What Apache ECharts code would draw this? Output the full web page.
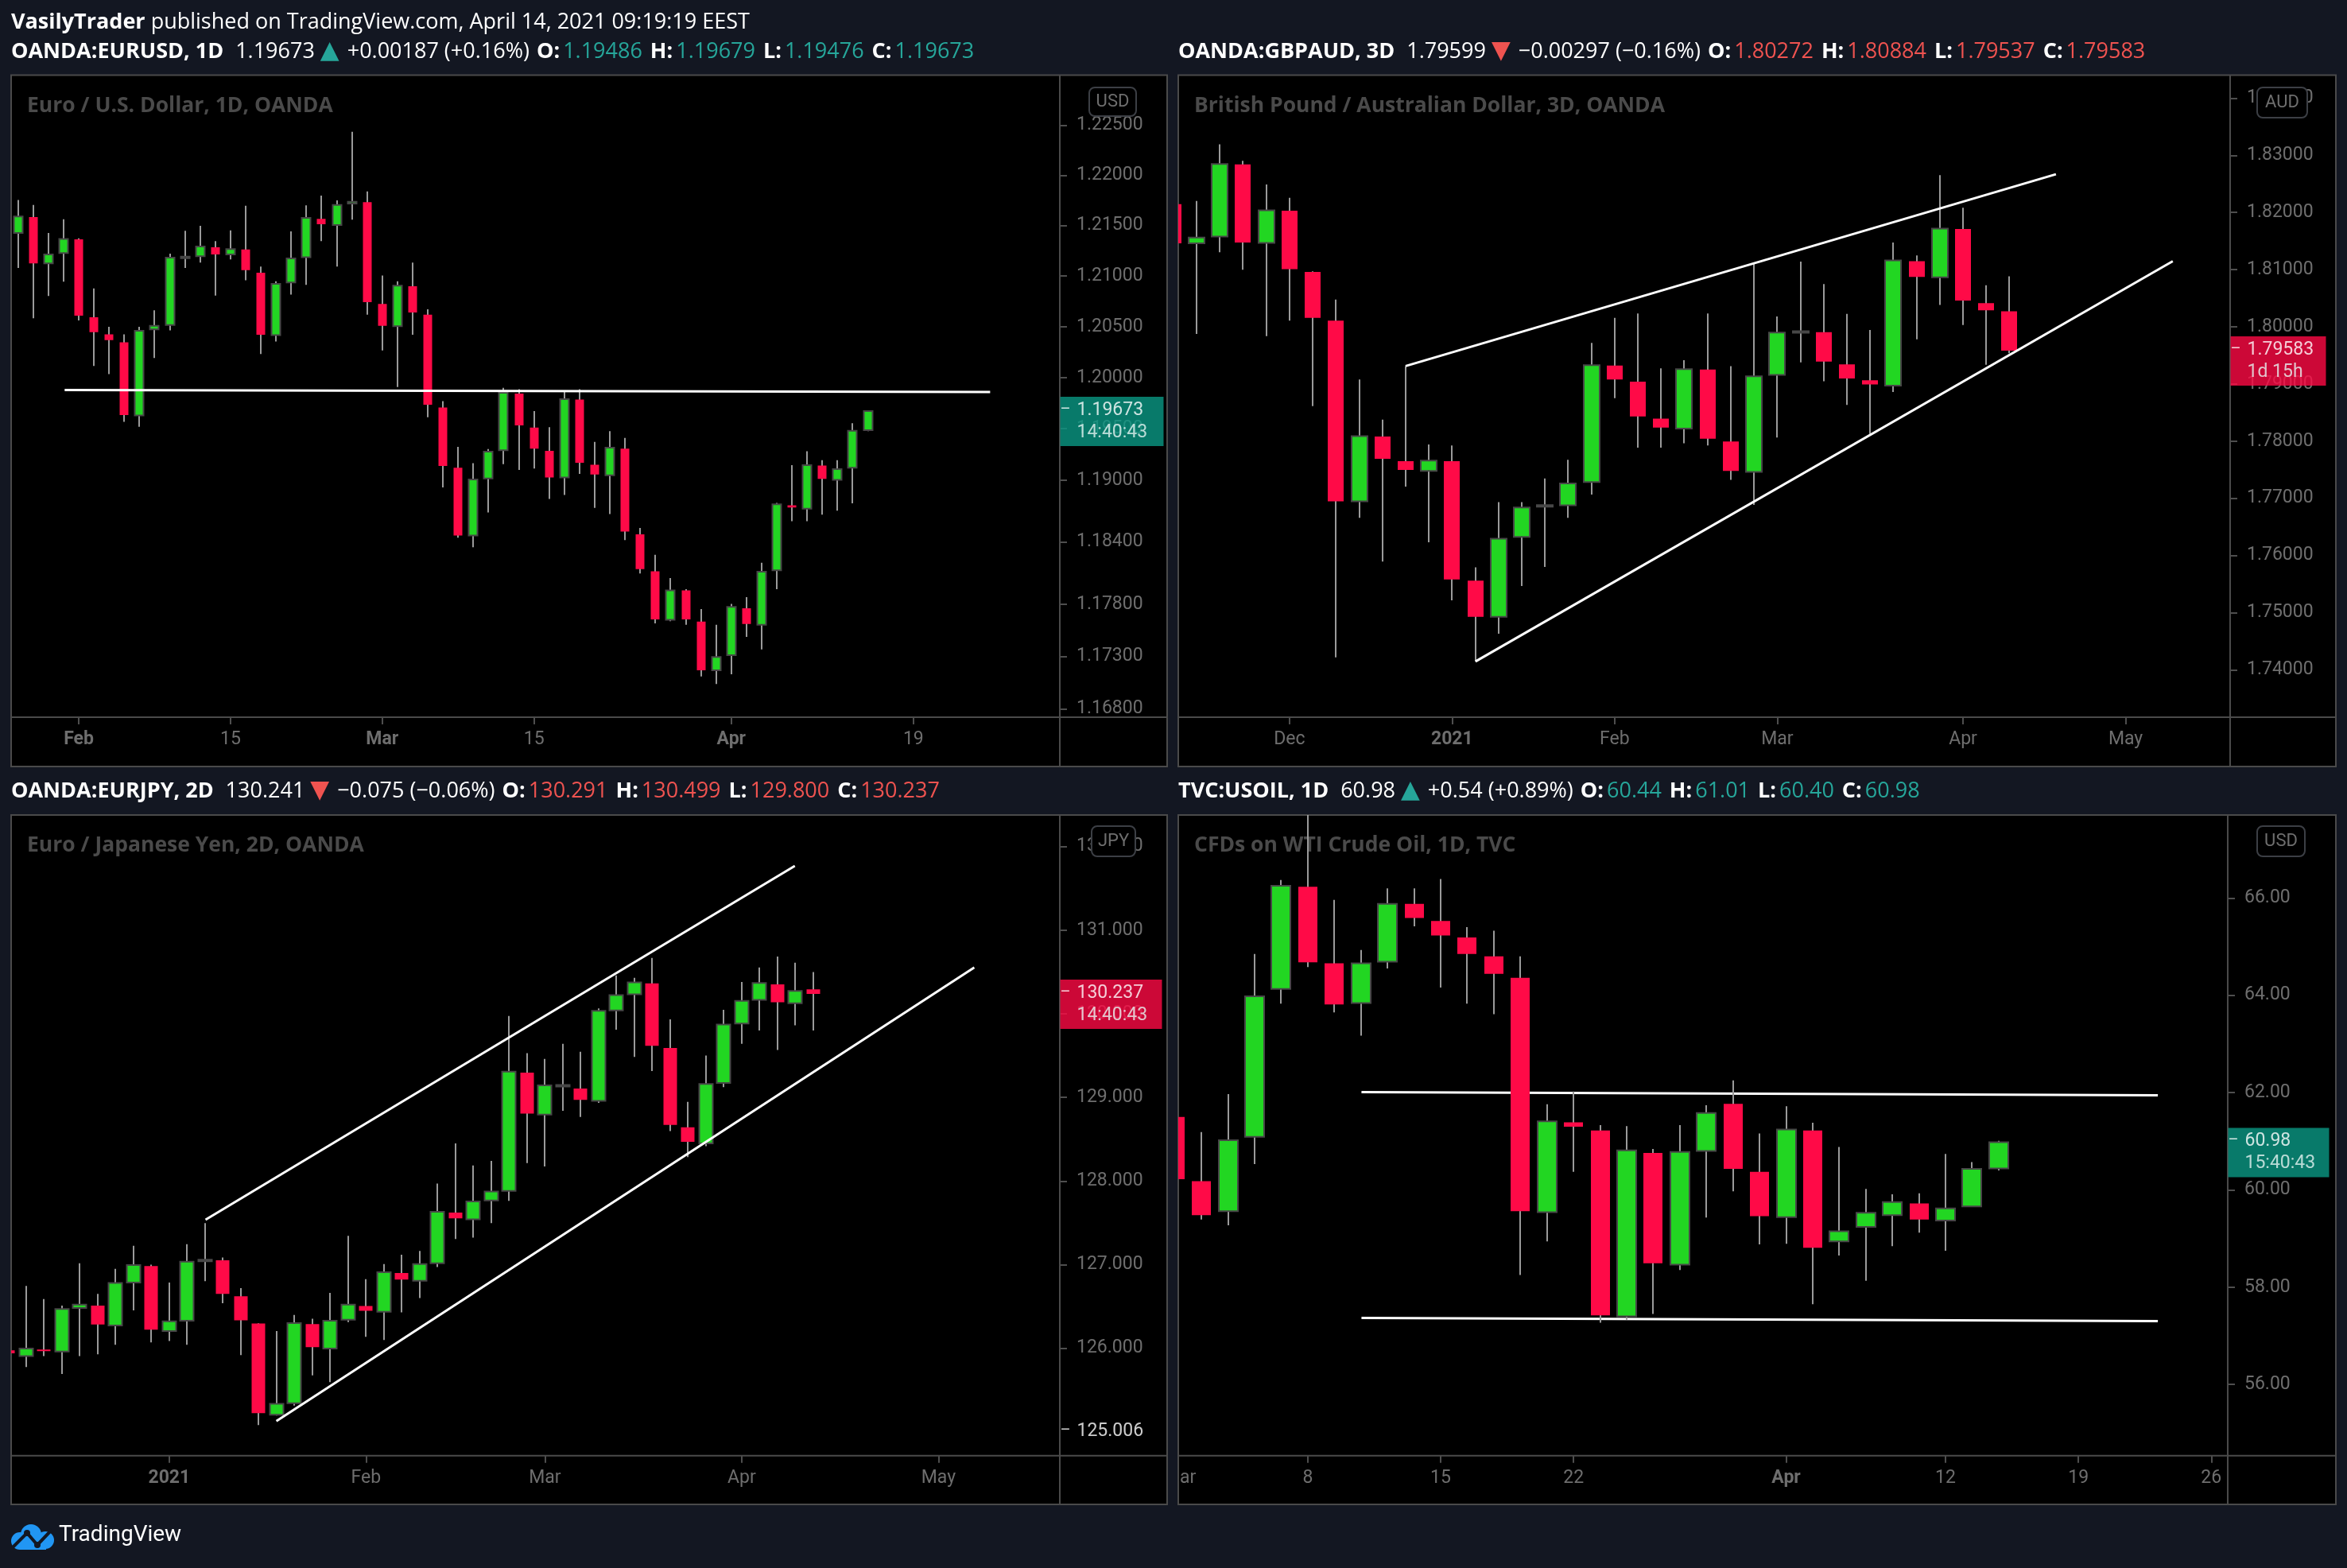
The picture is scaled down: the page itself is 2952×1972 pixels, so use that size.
<!DOCTYPE html>
<html><head><meta charset="utf-8">
<script src="https://cdn.jsdelivr.net/npm/echarts@6.0.0/dist/echarts.min.js"></script>
<style>html,body{margin:0;padding:0;background:#131722;}#c{width:2952px;height:1972px;}</style>
</head><body><div id="c"></div>
<script>
// ================= DATA =================
// ---- OANDA:EURUSD, 1D ----
const eurusdDates = ['2021-01-26','2021-01-27','2021-01-28','2021-01-29','2021-02-01','2021-02-02','2021-02-03','2021-02-04','2021-02-05','2021-02-08','2021-02-09','2021-02-10','2021-02-11','2021-02-12','2021-02-15','2021-02-16','2021-02-17','2021-02-18','2021-02-19','2021-02-22','2021-02-23','2021-02-24','2021-02-25','2021-02-26','2021-03-01','2021-03-02','2021-03-03','2021-03-04','2021-03-05','2021-03-08','2021-03-09','2021-03-10','2021-03-11','2021-03-12','2021-03-15','2021-03-16','2021-03-17','2021-03-18','2021-03-19','2021-03-22','2021-03-23','2021-03-24','2021-03-25','2021-03-26','2021-03-29','2021-03-30','2021-03-31','2021-04-01','2021-04-02','2021-04-05','2021-04-06','2021-04-07','2021-04-08','2021-04-09','2021-04-12','2021-04-13','2021-04-14','2021-04-15','2021-04-16','2021-04-19','2021-04-20','2021-04-21','2021-04-22','2021-04-23','2021-04-26','2021-04-27','2021-04-28','2021-04-29','2021-04-30'];
const eurusdOpen  = [1.21425,1.21584,1.21124,1.21226,1.21363,1.20592,1.20425,1.20346,1.19629,1.20473,1.20517,1.21188,1.21195,1.21283,1.21213,1.21261,1.21032,1.20416,1.20935,1.21186,1.21566,1.21504,1.21717,1.21731,1.20723,1.20504,1.20899,1.20618,1.19707,1.19120,1.18463,1.19016,1.19290,1.19843,1.19511,1.19285,1.19025,1.19786,1.19150,1.19047,1.19307,1.18475,1.18118,1.17650,1.17933,1.17633,1.17167,1.17312,1.17761,1.17603,1.18127,1.18756,1.18722,1.19142,1.19003,1.19120,1.19486];
const eurusdHigh  = [1.21752,1.21704,1.21425,1.21562,1.21372,1.20877,1.20499,1.20425,1.20499,1.20662,1.21221,1.21447,1.21496,1.21345,1.21451,1.21695,1.21093,1.20948,1.21442,1.21699,1.21797,1.21748,1.22433,1.21837,1.21005,1.20948,1.21133,1.20671,1.19769,1.19324,1.19164,1.19303,1.19900,1.19887,1.19673,1.19516,1.19860,1.19887,1.19372,1.19477,1.19411,1.18536,1.18277,1.18053,1.17946,1.17753,1.17603,1.17804,1.17869,1.18200,1.18778,1.19146,1.19281,1.19194,1.19194,1.19555,1.19679];
const eurusdLow   = [1.21080,1.20583,1.20803,1.20944,1.20561,1.20114,1.20035,1.19568,1.19520,1.20192,1.20464,1.21080,1.21133,1.20807,1.21164,1.20957,1.20232,1.20355,1.20816,1.20913,1.21345,1.21093,1.21557,1.20618,1.20267,1.19908,1.20420,1.19612,1.18929,1.18441,1.18350,1.18687,1.19155,1.19099,1.19112,1.18817,1.18856,1.19060,1.18730,1.18670,1.18419,1.18096,1.17616,1.17637,1.17603,1.17107,1.17035,1.17128,1.17487,1.17367,1.17946,1.18601,1.18601,1.18665,1.18704,1.18774,1.19476];
const eurusdClose = [1.21589,1.21124,1.21213,1.21367,1.20609,1.20447,1.20368,1.19633,1.20460,1.20508,1.21182,1.21192,1.21292,1.21213,1.21266,1.21058,1.20420,1.20922,1.21173,1.21575,1.21513,1.21704,1.21735,1.20741,1.20508,1.20904,1.20640,1.19734,1.19138,1.18463,1.19007,1.19277,1.19852,1.19533,1.19307,1.19025,1.19790,1.19168,1.19055,1.19316,1.18501,1.18139,1.17654,1.17933,1.17654,1.17167,1.17295,1.17774,1.17611,1.18114,1.18765,1.18735,1.19146,1.19012,1.19107,1.19481,1.19673];
const eurusdTimeTicks = [['2021-02-01','Feb',true],['2021-02-15','15',false],['2021-03-01','Mar',true],['2021-03-15','15',false],['2021-04-01','Apr',true],['2021-04-19','19',false]];
const eurusdPriceTicks = [1.225,1.22,1.215,1.21,1.205,1.2,1.195,1.19,1.184,1.178,1.173,1.168];
const eurusdTrendLines = [[[3.07,1.19878],[64.06,1.19860]]];
const eurusdLast = {price:1.19673, text:'1.19673', sub:'14:40:43', up:true};
const eurusdLegend = ['OANDA:EURUSD, 1D','1.19673','+0.00187 (+0.16%)','1.19486','1.19679','1.19476','1.19673'];
const eurusdTitle = 'Euro / U.S. Dollar, 1D, OANDA';

// ---- OANDA:GBPAUD, 3D ----
const gbpaudDates = ['2020-11-10','2020-11-13','2020-11-18','2020-11-23','2020-11-26','2020-12-01','2020-12-04','2020-12-09','2020-12-14','2020-12-17','2020-12-22','2020-12-28','2021-01-04','2021-01-07','2021-01-12','2021-01-15','2021-01-20','2021-01-25','2021-01-28','2021-02-02','2021-02-05','2021-02-10','2021-02-15','2021-02-18','2021-02-23','2021-02-26','2021-03-02','2021-03-05','2021-03-10','2021-03-15','2021-03-18','2021-03-23','2021-03-26','2021-03-31','2021-04-05','2021-04-08','2021-04-13','2021-04-16','2021-04-21','2021-04-26','2021-04-29','2021-05-04','2021-05-07','2021-05-12','2021-05-17','2021-05-20'];
const gbpaudOpen  = [1.82146,1.81460,1.81577,1.82841,1.81467,1.82029,1.80960,1.80109,1.76948,1.78080,1.77651,1.77479,1.77651,1.75559,1.74927,1.76324,1.76870,1.76878,1.77284,1.79321,1.79040,1.78392,1.78220,1.79251,1.77994,1.77463,1.79157,1.79915,1.79906,1.79344,1.79063,1.78970,1.81147,1.80866,1.81709,1.80414,1.80272];
const gbpaudHigh  = [1.82300,1.82201,1.83192,1.82903,1.82490,1.82256,1.80970,1.80476,1.79079,1.78377,1.79313,1.77940,1.77924,1.75793,1.76933,1.76933,1.77346,1.77674,1.79719,1.80156,1.80234,1.79274,1.79415,1.80234,1.79313,1.81124,1.80180,1.81140,1.80749,1.80226,1.79945,1.81475,1.81249,1.82654,1.82084,1.80726,1.80884];
const gbpaudLow   = [1.81250,1.79875,1.81303,1.80999,1.79836,1.80109,1.78611,1.74216,1.76659,1.75895,1.77206,1.76230,1.75216,1.74146,1.74630,1.75465,1.75801,1.76659,1.77065,1.78751,1.77885,1.77885,1.77963,1.77924,1.77323,1.76886,1.78064,1.79376,1.79048,1.78634,1.78127,1.78860,1.79781,1.80382,1.80031,1.79337,1.79537];
const gbpaudClose = [1.81460,1.81561,1.82849,1.81475,1.82037,1.81007,1.80156,1.76948,1.78088,1.77690,1.77495,1.77659,1.75582,1.74927,1.76293,1.76839,1.76880,1.77260,1.79329,1.79079,1.78431,1.78236,1.79259,1.78041,1.77479,1.79134,1.79899,1.79925,1.79391,1.79095,1.78993,1.81163,1.80874,1.81717,1.80460,1.80289,1.79583];
const gbpaudTimeTicks = [['2020-12-01','Dec',false],['2021-01-04','2021',true],['2021-02-02','Feb',false],['2021-03-02','Mar',false],['2021-04-05','Apr',false],['2021-05-04','May',false]];
const gbpaudPriceTicks = [1.84,1.83,1.82,1.81,1.80,1.79,1.78,1.77,1.76,1.75,1.74];
const gbpaudTrendLines = [[[10.0,1.79313],[38.0,1.82669]],[[13.01,1.74146],[43.03,1.81147]]];
const gbpaudLast = {price:1.79583, text:'1.79583', sub:'1d 15h', up:false};
const gbpaudLegend = ['OANDA:GBPAUD, 3D','1.79599','\u22120.00297 (\u22120.16%)','1.80272','1.80884','1.79537','1.79583'];
const gbpaudTitle = 'British Pound / Australian Dollar, 3D, OANDA';

// ---- OANDA:EURJPY, 2D ----
const eurjpyDates = ['2020-12-08','2020-12-10','2020-12-14','2020-12-16','2020-12-18','2020-12-22','2020-12-24','2020-12-28','2020-12-30','2021-01-01','2021-01-05','2021-01-07','2021-01-11','2021-01-13','2021-01-15','2021-01-19','2021-01-21','2021-01-25','2021-01-27','2021-01-29','2021-02-01','2021-02-03','2021-02-05','2021-02-09','2021-02-11','2021-02-15','2021-02-17','2021-02-19','2021-02-23','2021-02-25','2021-03-01','2021-03-03','2021-03-05','2021-03-09','2021-03-11','2021-03-15','2021-03-17','2021-03-19','2021-03-23','2021-03-25','2021-03-29','2021-04-01','2021-04-05','2021-04-07','2021-04-09','2021-04-13','2021-04-15','2021-04-19','2021-04-21','2021-04-23','2021-04-27','2021-04-29','2021-05-03','2021-05-05','2021-05-07','2021-05-11','2021-05-13','2021-05-17','2021-05-19'];
const eurjpyOpen  = [125.975,125.907,125.986,125.963,126.482,126.510,126.274,126.787,126.984,126.206,126.330,127.055,127.052,126.623,126.296,125.207,125.343,126.290,125.997,126.341,126.505,126.437,126.900,126.809,127.018,127.622,127.543,127.768,127.881,129.297,128.795,129.140,129.105,128.958,130.041,130.233,130.363,129.590,128.642,128.451,129.173,129.883,130.165,130.351,130.126,130.291];
const eurjpyHigh  = [126.003,126.747,126.589,126.510,127.018,126.651,126.950,127.227,127.000,126.787,127.244,127.497,127.086,126.719,126.300,126.206,126.398,126.353,126.663,127.345,126.826,127.007,127.120,127.165,127.971,128.451,128.186,128.242,129.973,129.528,129.460,129.641,129.545,130.064,130.459,130.430,130.667,129.934,128.947,129.500,130.047,130.380,130.554,130.684,130.611,130.499];
const eurjpyLow   = [125.879,125.777,125.907,125.693,125.907,125.929,126.042,126.454,126.070,126.087,126.042,126.804,126.539,125.918,125.083,125.196,125.315,125.676,125.597,126.313,126.138,126.099,126.431,126.601,126.973,127.306,127.323,127.497,127.763,128.214,128.174,128.840,128.767,128.936,129.810,129.483,129.314,128.597,128.287,128.417,129.122,129.641,129.799,129.567,129.861,129.800];
const eurjpyClose = [125.941,125.997,125.969,126.471,126.522,126.285,126.781,126.995,126.223,126.324,127.035,127.060,126.651,126.336,125.224,125.337,126.302,126.014,126.330,126.522,126.448,126.911,126.821,127.007,127.633,127.554,127.757,127.875,129.308,128.806,129.144,129.148,128.970,130.036,130.222,130.374,129.618,128.671,128.468,129.161,129.872,130.154,130.368,130.137,130.272,130.237];
const eurjpyTimeTicks = [['2021-01-01','2021',true],['2021-02-01','Feb',false],['2021-03-01','Mar',false],['2021-04-01','Apr',false],['2021-05-03','May',false]];
const eurjpyPriceTicks = [132,131,130,129,128,127,126];
const eurjpyTrendLines = [[[11.03,127.537],[43.97,131.767]],[[14.99,125.129],[54.0,130.554]]];
const eurjpyLast = {price:130.237, text:'130.237', sub:'14:40:43', up:false};
const eurjpyLowMark = {price:125.006, text:'125.006'};
const eurjpyLegend = ['OANDA:EURJPY, 2D','130.241','\u22120.075 (\u22120.06%)','130.291','130.499','129.800','130.237'];
const eurjpyTitle = 'Euro / Japanese Yen, 2D, OANDA';

// ---- TVC:USOIL, 1D ----
const usoilDates = ['2021-03-01','2021-03-02','2021-03-03','2021-03-04','2021-03-05','2021-03-08','2021-03-09','2021-03-10','2021-03-11','2021-03-12','2021-03-15','2021-03-16','2021-03-17','2021-03-18','2021-03-19','2021-03-22','2021-03-23','2021-03-24','2021-03-25','2021-03-26','2021-03-29','2021-03-30','2021-03-31','2021-04-01','2021-04-05','2021-04-06','2021-04-07','2021-04-08','2021-04-09','2021-04-12','2021-04-13','2021-04-14','2021-04-15','2021-04-16','2021-04-19','2021-04-20','2021-04-21','2021-04-22','2021-04-23','2021-04-26','2021-04-27'];
const usoilOpen  = [61.50,60.18,59.56,61.09,64.13,66.23,64.66,63.84,64.69,65.88,65.53,65.19,64.80,64.36,59.54,61.39,61.22,57.40,60.76,58.46,60.80,61.77,60.37,59.44,61.22,58.94,59.24,59.48,59.72,59.37,59.66,60.44];
const usoilHigh  = [61.75,61.19,61.97,64.85,66.37,67.98,65.96,64.93,66.20,66.20,66.39,65.40,65.33,64.80,61.76,62.02,61.33,61.31,60.84,61.33,61.74,62.25,61.16,61.72,61.38,60.88,60.02,59.91,59.93,60.74,60.57,61.01];
const usoilLow   = [60.00,59.39,59.27,60.53,63.83,64.58,63.65,63.17,64.55,65.42,64.16,63.83,63.61,58.25,58.94,60.37,57.27,57.33,57.45,58.35,59.43,59.97,58.88,58.89,57.65,58.65,58.13,58.84,59.12,58.75,59.66,60.40];
const usoilClose = [60.22,59.48,61.02,63.98,66.25,64.68,63.81,64.66,65.88,65.59,65.23,64.85,64.44,59.56,61.41,61.30,57.42,60.81,58.49,60.78,61.58,60.43,59.46,61.24,58.81,59.15,59.53,59.75,59.39,59.62,60.43,60.98];
const usoilTimeTicks = [['2021-03-08','8',false],['2021-03-15','15',false],['2021-03-22','22',false],['2021-04-01','Apr',true],['2021-04-12','12',false],['2021-04-19','19',false],['2021-04-26','26',false]];
const usoilClippedTick = 'ar';
const usoilPriceTicks = [66,64,62,60,58,56];
const usoilTrendLines = [[[7.02,62.01],[36.99,61.946]],[[7.02,57.368],[36.99,57.30]]];
const usoilLast = {price:60.98, text:'60.98', sub:'15:40:43', up:true};
const usoilLegend = ['TVC:USOIL, 1D','60.98','+0.54 (+0.89%)','60.44','61.01','60.40','60.98'];
const usoilTitle = 'CFDs on WTI Crude Oil, 1D, TVC';

const publishLine = ['VasilyTrader',' published on TradingView.com, April 14, 2021 09:19:19 EEST'];

// ================= STYLE / LAYOUT =================
const FONT = 'Roboto, "Noto Sans", "DejaVu Sans", sans-serif';
const HFONT = '"Open Sans", "Noto Sans", Roboto, sans-serif';
const HSIZE = 27;
const GREEN = '#22d622', RED = '#ff0a47', WICK = '#9a9a9a', GBORDER = '#474747';
const AXC = '#4e4e4e', LBC = '#6e6e6e', TITLEC = '#4a4a4a', FRAME = '#4a4a4a';
const TEAL = '#26a69a', LRED = '#ef5350', BOX_TEAL = '#0a9884', BOX_RED = '#ff0a45';

const panels = [
  {dates:eurusdDates,O:eurusdOpen,H:eurusdHigh,L:eurusdLow,C:eurusdClose,tt:eurusdTimeTicks,pt:eurusdPriceTicks,tr:eurusdTrendLines,last:eurusdLast,legend:eurusdLegend,title:eurusdTitle,unit:'USD',
   g:{left:14,top:94.5,right:1468,bottom:964,pr:1333,pb:902,xMin:-0.456,xMax:68.65,yMin:1.16719,yMax:1.2300,log:true,digits:5,body:0.6,lineZ:5,legendY:65,titleY:133,badge:[1370,110,59,36],labW:130}},
  {dates:gbpaudDates,O:gbpaudOpen,H:gbpaudHigh,L:gbpaudLow,C:gbpaudClose,tt:gbpaudTimeTicks,pt:gbpaudPriceTicks,tr:gbpaudTrendLines,last:gbpaudLast,legend:gbpaudLegend,title:gbpaudTitle,unit:'AUD',
   g:{left:1482,top:94.5,right:2938,bottom:964,pr:2805,pb:902,xMin:0.212,xMax:45.5,yMin:1.73171,yMax:1.84402,log:false,digits:5,body:0.68,lineZ:5,legendY:65,titleY:133,badge:[2839,110,63,38],labW:120}},
  {dates:eurjpyDates,O:eurjpyOpen,H:eurjpyHigh,L:eurjpyLow,C:eurjpyClose,tt:eurjpyTimeTicks,pt:eurjpyPriceTicks,tr:eurjpyTrendLines,last:eurjpyLast,legend:eurjpyLegend,title:eurjpyTitle,unit:'JPY',
   g:{left:14,top:1025,right:1468,bottom:1892,pr:1333,pb:1830.7,xMin:0.164,xMax:58.78,yMin:124.717,yMax:132.376,log:false,digits:3,body:0.75,lineZ:5,legendY:995,titleY:1063,badge:[1373,1039,55,38],labW:128}},
  {dates:usoilDates,O:usoilOpen,H:usoilHigh,L:usoilLow,C:usoilClose,tt:usoilTimeTicks,pt:usoilPriceTicks,tr:usoilTrendLines,last:usoilLast,legend:usoilLegend,title:usoilTitle,unit:'USD',
   g:{left:1482,top:1025,right:2938,bottom:1892,pr:2802,pb:1830.7,xMin:0.126,xMax:39.62,yMin:54.535,yMax:67.707,log:false,digits:2,body:0.72,lineZ:2,legendY:995,titleY:1063,badge:[2839,1039,60,38],labW:127}}
];

const grids = [], xAxes = [], yAxes = [], series = [], graphics = [];

panels.forEach((p, k) => {
  const g = p.g;
  grids.push({left:g.left, top:g.top, width:g.pr - g.left, height:g.pb - g.top, containLabel:false, outerBoundsMode:'none', show:false});
  const tickMap = {}; const tickIdx = [];
  p.tt.forEach(t => { const i = p.dates.indexOf(t[0]); tickMap[i] = t; tickIdx.push(i); });
  xAxes.push({type:'value', gridIndex:k, min:g.xMin, max:g.xMax, axisLine:{show:false, onZero:false}, splitLine:{show:false},
    axisTick:{show:true, customValues:tickIdx, length:9, lineStyle:{color:AXC, width:2}},
    axisLabel:{show:true, customValues:tickIdx, hideOverlap:false, margin:17, fontSize:23, color:LBC, fontFamily:FONT,
      formatter: v => { const t = tickMap[Math.round(v)]; if (!t) return ''; return t[2] ? '{b|' + t[1] + '}' : t[1]; },
      rich:{b:{fontWeight:'bold', fontSize:23, color:LBC, fontFamily:FONT}}}});
  yAxes.push({type:g.log ? 'log' : 'value', logBase:10, gridIndex:k, position:'right', min:g.yMin, max:g.yMax, scale:true,
    axisLine:{show:false, onZero:false}, splitLine:{show:false},
    axisTick:{show:true, customValues:p.pt, length:9, lineStyle:{color:AXC, width:2}},
    axisLabel:{show:true, customValues:p.pt, hideOverlap:false, margin:21, fontSize:23, color:LBC, fontFamily:FONT, formatter: v => Number(v).toFixed(g.digits)}});

  // candles
  series.push({type:'custom', xAxisIndex:k, yAxisIndex:k, clip:true, z:3, silent:true,
    data: p.O.map((o, i) => [i, o, p.H[i], p.L[i], p.C[i]]),
    encode:{x:0, y:[1,2,3,4]},
    renderItem: (params, api) => {
      const i = api.value(0), o = api.value(1), h = api.value(2), l = api.value(3), c = api.value(4);
      const po = api.coord([i, o]), pc = api.coord([i, c]), ph = api.coord([i, h]), pl = api.coord([i, l]);
      const step = api.coord([i + 1, o])[0] - po[0];
      const bw = Math.round(step * g.body);
      const x = Math.round(po[0]);
      const up = c >= o;
      const top = Math.min(po[1], pc[1]);
      const hh = Math.max(Math.abs(po[1] - pc[1]), 2);
      return {type:'group', children:[
        {type:'line', shape:{x1:x, y1:ph[1], x2:x, y2:pl[1]}, style:{stroke:WICK, lineWidth:2}},
        {type:'rect', shape:{x:x - bw / 2, y:top, width:bw, height:hh},
          style: up ? {fill:GREEN, stroke:GBORDER, lineWidth:2} : {fill:RED, lineWidth:0}}
      ]};
    }});

  // trend lines
  p.tr.forEach(seg => series.push({type:'line', xAxisIndex:k, yAxisIndex:k, data:seg, symbol:'none', silent:true, z:g.lineZ,
    lineStyle:{color:'#ffffff', width:3}, clip:false}));

  // current price label on the price scale
  const boxColor = p.last.up ? BOX_TEAL : BOX_RED;
  series.push({type:'scatter', xAxisIndex:k, yAxisIndex:k, clip:false, z:20, silent:true, symbolSize:1,
    itemStyle:{color:'rgba(0,0,0,0)'}, data:[[g.xMax, p.last.price]],
    label:{show:true, position:'right', distance:0, offset:[0, 13], backgroundColor:boxColor, padding:[3, 0, 3, 0], width:g.labW, align:'left',
      formatter:'{d|\u2013}{p|' + p.last.text + '}\n{e| }{s|' + p.last.sub + '}',
      rich:{d:{color:'#ffffff', fontSize:20, width:21, fontFamily:FONT, lineHeight:28},
            p:{color:'#ffffff', fontSize:23, fontFamily:FONT, lineHeight:28},
            e:{width:21, fontSize:20, lineHeight:28},
            s:{color:'#e6f4f1', fontSize:23, fontFamily:FONT, lineHeight:28}}}});

  // frame
  graphics.push({type:'rect', z:-10, silent:true, shape:{x:g.left, y:g.top, width:g.right - g.left, height:g.bottom - g.top}, style:{fill:'#000000', stroke:FRAME, lineWidth:2}});
  graphics.push({type:'line', z:6, silent:true, shape:{x1:g.pr, y1:g.top, x2:g.pr, y2:g.bottom}, style:{stroke:FRAME, lineWidth:2}});
  graphics.push({type:'line', z:6, silent:true, shape:{x1:g.left, y1:g.pb, x2:g.right, y2:g.pb}, style:{stroke:FRAME, lineWidth:2}});
  // in-plot title
  graphics.push({type:'text', z:1, silent:true, x:g.left + 20, y:g.titleY, style:{text:p.title, fill:TITLEC, fontSize:26.5, fontWeight:'bold', fontFamily:HFONT, verticalAlign:'middle'}});
  // legend
  const cc = p.last.up ? TEAL : LRED;
  const arrow = p.last.up ? '\u25B2' : '\u25BC';
  const L = p.legend;
  graphics.push({type:'text', z:20, silent:true, x:g.left, y:g.legendY, style:{
    text:'{b|' + L[0] + '}{g15| }{w|' + L[1] + '}{g7| }{a|' + arrow + '}{g10| }{w|' + L[2] + '}{g9| }{b|O:}{g4| }{c|' + L[3] + '}{g10| }{b|H:}{g4| }{c|' + L[4] + '}{g10| }{b|L:}{g4| }{c|' + L[5] + '}{g10| }{b|C:}{g4| }{c|' + L[6] + '}',
    verticalAlign:'middle', fontSize:HSIZE, fontFamily:HFONT, fill:'#ffffff',
    rich:{b:{fill:'#ffffff', fontWeight:'bold', fontSize:HSIZE, fontFamily:HFONT},
          w:{fill:'#ffffff', fontSize:HSIZE, fontFamily:HFONT},
          c:{fill:cc, fontSize:HSIZE, fontFamily:HFONT},
          a:{fill:cc, fontSize:31, fontFamily:'"DejaVu Sans", sans-serif'},
          g15:{width:15, fontSize:HSIZE}, g12:{width:12, fontSize:HSIZE}, g10:{width:10, fontSize:HSIZE},
          g9:{width:9, fontSize:HSIZE}, g7:{width:7, fontSize:HSIZE}, g4:{width:4, fontSize:HSIZE}}}});
  // currency badge
  const b = g.badge;
  graphics.push({type:'group', z:25, silent:true, children:[
    {type:'rect', z:25, shape:{x:b[0], y:b[1], width:b[2], height:b[3], r:7}, style:{fill:'#000000', stroke:'#3c3f45', lineWidth:2}},
    {type:'text', z:26, x:b[0] + b[2] / 2, y:b[1] + b[3] / 2, style:{text:p.unit, fill:'#6e6e6e', fontSize:22, fontFamily:FONT, align:'center', verticalAlign:'middle'}}
  ]});
});

// USOIL: the "Mar" time label, clipped at the pane's left edge
graphics.push({type:'text', z:6, silent:true, x:panels[3].g.left + 2, y:panels[3].g.pb + 29, style:{text:usoilClippedTick, fill:LBC, fontSize:23, fontFamily:FONT, verticalAlign:'middle'}});

// EURJPY white low marker on the scale
series.push({type:'scatter', xAxisIndex:2, yAxisIndex:2, clip:false, z:20, silent:true, symbolSize:1, itemStyle:{color:'rgba(0,0,0,0)'},
  data:[[panels[2].g.xMax, eurjpyLowMark.price]],
  label:{show:true, position:'right', distance:0, formatter:'{d|\u2013}{p|' + eurjpyLowMark.text + '}',
    rich:{d:{color:'#ffffff', fontSize:20, width:21, fontFamily:FONT}, p:{color:'#ffffff', fontSize:23, fontFamily:FONT}}}});

// header line
graphics.push({type:'text', z:20, silent:true, x:14, y:28, style:{text:'{b|' + publishLine[0] + '}{w|' + publishLine[1] + '}', verticalAlign:'middle', fontSize:HSIZE, fontFamily:HFONT, fill:'#ffffff',
  rich:{b:{fill:'#ffffff', fontWeight:'bold', fontSize:HSIZE, fontFamily:HFONT}, w:{fill:'#ffffff', fontSize:HSIZE, fontFamily:HFONT}}}});

// TradingView logo + wordmark
graphics.push({type:'group', z:20, silent:true, x:13, y:1916, children:[
  {type:'circle', shape:{cx:12, cy:22, r:11}, style:{fill:'#2196f3'}},
  {type:'circle', shape:{cx:26, cy:14, r:13}, style:{fill:'#2196f3'}},
  {type:'circle', shape:{cx:44, cy:21, r:11}, style:{fill:'#2196f3'}},
  {type:'rect', shape:{x:12, y:18, width:33, height:15}, style:{fill:'#2196f3'}},
  {type:'polyline', shape:{points:[[3,30],[21,12],[34,27],[52,8]]}, style:{stroke:'#131722', lineWidth:4, fill:null}},
  {type:'circle', shape:{cx:21, cy:12, r:4}, style:{fill:'#131722'}},
  {type:'circle', shape:{cx:34, cy:27, r:4}, style:{fill:'#131722'}}
]});
graphics.push({type:'text', z:20, silent:true, x:74, y:1931, style:{text:'TradingView', fill:'#ffffff', fontSize:28, fontFamily:FONT, verticalAlign:'middle'}});

const chart = echarts.init(document.getElementById('c'), null, {renderer:'canvas', width:2952, height:1972, devicePixelRatio:1});
chart.setOption({
  backgroundColor:'#131722', animation:false,
  grid:grids, xAxis:xAxes, yAxis:yAxes, series:series, graphic:{elements:graphics}
});
</script>
</body></html>
